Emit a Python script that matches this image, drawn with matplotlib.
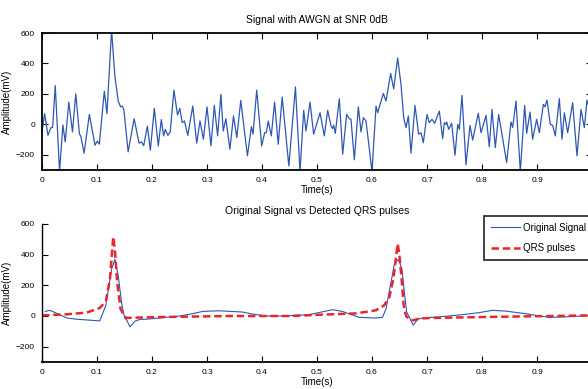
import matplotlib
matplotlib.use("Agg")
import matplotlib.pyplot as plt
from matplotlib import font_manager

# font: narrow sans if available
names = {f.name for f in font_manager.fontManager.ttflist}
if "Liberation Sans Narrow" in names:
    plt.rcParams["font.family"] = ["Liberation Sans Narrow", "DejaVu Sans"]
else:
    plt.rcParams["font.family"] = ["Liberation Sans", "DejaVu Sans"]

# --- noisy signal (peaks / troughs) ---
noisy_t = [0.0, 0.0048, 0.0108, 0.0163, 0.0193, 0.0241, 0.0319, 0.0380, 0.0422, 0.0488,
           0.0554, 0.0614, 0.0681, 0.0705, 0.0765, 0.0861, 0.0964, 0.1006, 0.1042, 0.1133,
           0.1181, 0.1265, 0.1325, 0.1386, 0.1428, 0.1458, 0.1488, 0.1566, 0.1675, 0.1765,
           0.1807, 0.1849, 0.1916, 0.1970, 0.2042, 0.2114, 0.2169, 0.2211, 0.2241, 0.2289,
           0.2331, 0.2398, 0.2464, 0.2506, 0.2548, 0.2590, 0.2651, 0.2741, 0.2813, 0.2873,
           0.2934, 0.3000, 0.3072, 0.3133, 0.3193, 0.3253, 0.3295, 0.3343, 0.3416, 0.3482,
           0.3542, 0.3614, 0.3735, 0.3807, 0.3837, 0.3904, 0.3994, 0.4048, 0.4078, 0.4114,
           0.4169, 0.4229, 0.4295, 0.4367, 0.4488, 0.4608, 0.4691, 0.4758, 0.4800, 0.4873,
           0.4939, 0.5055, 0.5133, 0.5194, 0.5255, 0.5285, 0.5303, 0.5333, 0.5406, 0.5467,
           0.5539, 0.5588, 0.5618, 0.5679, 0.5752, 0.5800, 0.5842, 0.5891, 0.6000, 0.6073,
           0.6103, 0.6206, 0.6255, 0.6339, 0.6394, 0.6467, 0.6527, 0.6576, 0.6618, 0.6661,
           0.6709, 0.6782, 0.6848, 0.6891, 0.6933, 0.7000, 0.7042, 0.7091, 0.7139, 0.7224,
           0.7285, 0.7315, 0.7345, 0.7358, 0.7394, 0.7448, 0.7509, 0.7558, 0.7588, 0.7636,
           0.7709, 0.7782, 0.7830, 0.7933, 0.7982, 0.8073, 0.8133, 0.8182, 0.8242, 0.8303,
           0.8448, 0.8527, 0.8558, 0.8618, 0.8697, 0.8776, 0.8812, 0.8873, 0.8921, 0.8994,
           0.9042, 0.9115, 0.9145, 0.9182, 0.9242, 0.9285, 0.9333, 0.9406, 0.9455, 0.9497,
           0.9558, 0.9648, 0.9727, 0.9800, 0.9861, 0.9909, 1.0]
noisy_mv = [-50, 70, -72, -22, -20, 255, -310, -4, -115, 146,
            -50, 200, -65, -76, -190, 65, -137, -110, -130, 218,
            70, 620, 316, 153, 115, 120, 98, -181, 37, -124,
            -115, -140, -11, -170, 105, -142, 31, -76, -33, -72,
            -50, 225, 61, 105, 11, 22, -72, 120, -124, 22,
            -98, 115, -142, 124, -76, 198, -44, 37, -163, 55,
            -87, 157, -207, -15, -65, 225, -142, -55, -55, 22,
            -76, 146, -131, 179, -273, 246, -310, 92, -44, 146,
            -65, 76, -76, 92, -11, -28, -6, -59, 168, -196,
            65, 37, 33, -233, 115, -50, 44, 22, -310, 120,
            76, 203, 153, 334, 233, 436, 262, 44, -22, 55,
            -190, 124, -65, -55, -120, 65, 11, 33, 7, 87,
            -94, 11, 0, 15, -33, 7, -203, 0, -33, 190,
            -266, -7, -103, 72, -55, 59, -148, 98, -153, 65,
            -251, 15, -20, 153, -310, 124, -59, 81, -98, 33,
            -55, 131, 115, 159, 0, -7, -76, 170, -98, 76,
            -55, 142, -207, 98, -22, 159, 40]

# --- original ECG ---
orig_t = [0.006, 0.014, 0.024, 0.045, 0.063, 0.105, 0.116, 0.1265, 0.1325, 0.1386,
          0.1446, 0.150, 0.1542, 0.160, 0.169, 0.178, 0.190, 0.214, 0.250, 0.274,
          0.292, 0.322, 0.364, 0.383, 0.407, 0.443, 0.486, 0.528, 0.546, 0.577,
          0.607, 0.619, 0.6255, 0.6345, 0.6406, 0.6485, 0.6545, 0.6588, 0.6630, 0.6691,
          0.675, 0.683, 0.692, 0.722, 0.765, 0.795, 0.819, 0.843, 0.880, 0.898,
          0.922, 0.952, 0.983, 1.0]
orig_mv = [30, 37, 22, -13, -21, -32, 69, 305, 370, 262,
           90, -13, -28, -71, -34, -22, -21, -13, 0, 15,
           30, 34, 26, 13, 0, 0, 9, 41, 30, -9,
           -13, -9, 47, 219, 337, 370, 305, 155, 26, -17,
           -60, -21, -13, -6, 9, 22, 37, 32, 15, 4,
           -9, -6, 0, 4]

# --- detected QRS pulses ---
qrs_t = [0.0, 0.045, 0.081, 0.105, 0.116, 0.1235, 0.1295, 0.1325, 0.1367, 0.1428,
         0.149, 0.1536, 0.166, 0.226, 0.346, 0.450, 0.510, 0.571, 0.607, 0.622,
         0.6315, 0.6388, 0.6424, 0.6467, 0.6497, 0.6539, 0.6576, 0.6618, 0.6679, 0.675,
         0.686, 0.704, 0.813, 1.0]
qrs_mv = [4, 11, 22, 52, 95, 241, 516, 434, 219, 47,
          4, -13, -11, -6, 0, 0, 9, 17, 37, 69,
          123, 241, 348, 471, 402, 241, 69, 0, -21, -28,
          -17, -13, -6, 4]

xticks = [0, 0.1, 0.2, 0.3, 0.4, 0.5, 0.6, 0.7, 0.8, 0.9]
xticklabels = ["0", "0.1", "0.2", "0.3", "0.4", "0.5", "0.6", "0.7", "0.8", "0.9"]
yticks = [-200, 0, 200, 400, 600]

blue = "#2f57b4"
red = "#e8262b"

fig = plt.figure(figsize=(5.88, 3.89), dpi=100)
ax1 = fig.add_axes([42 / 588, 1 - 170 / 389, 550 / 588, 137 / 389])
ax2 = fig.add_axes([42 / 588, 1 - 362 / 389, 550 / 588, 138 / 389])

# top: noisy signal
ax1.plot(noisy_t, noisy_mv, color=blue, lw=0.9)
ax1.set_title("Signal with AWGN at SNR 0dB", fontsize=7.5, pad=7)
for s in ax1.spines.values():
    s.set_linewidth(1.3)
ax1.tick_params(direction="in", top=True, right=True, length=4, width=0.8,
                labelsize=6, pad=5)

# bottom: original vs QRS
ax2.plot(orig_t, orig_mv, color=blue, lw=0.8, label="Original Signal")
ax2.plot(qrs_t, qrs_mv, color=red, lw=1.8, ls=(0, (3, 1.5)), label="QRS pulses")
ax2.set_title("Original Signal vs Detected QRS pulses", fontsize=7.5, pad=7)
ax2.spines["top"].set_visible(False)
ax2.spines["right"].set_visible(False)
ax2.spines["left"].set_linewidth(1.0)
ax2.spines["bottom"].set_linewidth(1.3)
ax2.tick_params(direction="in", length=4, width=0.8, labelsize=6, pad=5)
leg = ax2.legend(loc="upper left", bbox_to_anchor=(0.804, 1.06), fontsize=7,
                 frameon=True, fancybox=False, edgecolor="black",
                 handlelength=3.0, handletextpad=0.3, borderpad=0.7,
                 labelspacing=1.1, borderaxespad=0)
leg.get_frame().set_linewidth(1.3)

for ax in (ax1, ax2):
    ax.set_xlim(0, 1)
    ax.set_ylim(-300, 600)
    ax.set_xticks(xticks)
    ax.set_xticklabels(xticklabels)
    ax.set_yticks(yticks)
    ax.set_xlabel("Time(s)", fontsize=7, labelpad=1)
    ax.set_ylabel("Amplitude(mV)", fontsize=7, labelpad=3)

fig.savefig("out.png", dpi=100)
